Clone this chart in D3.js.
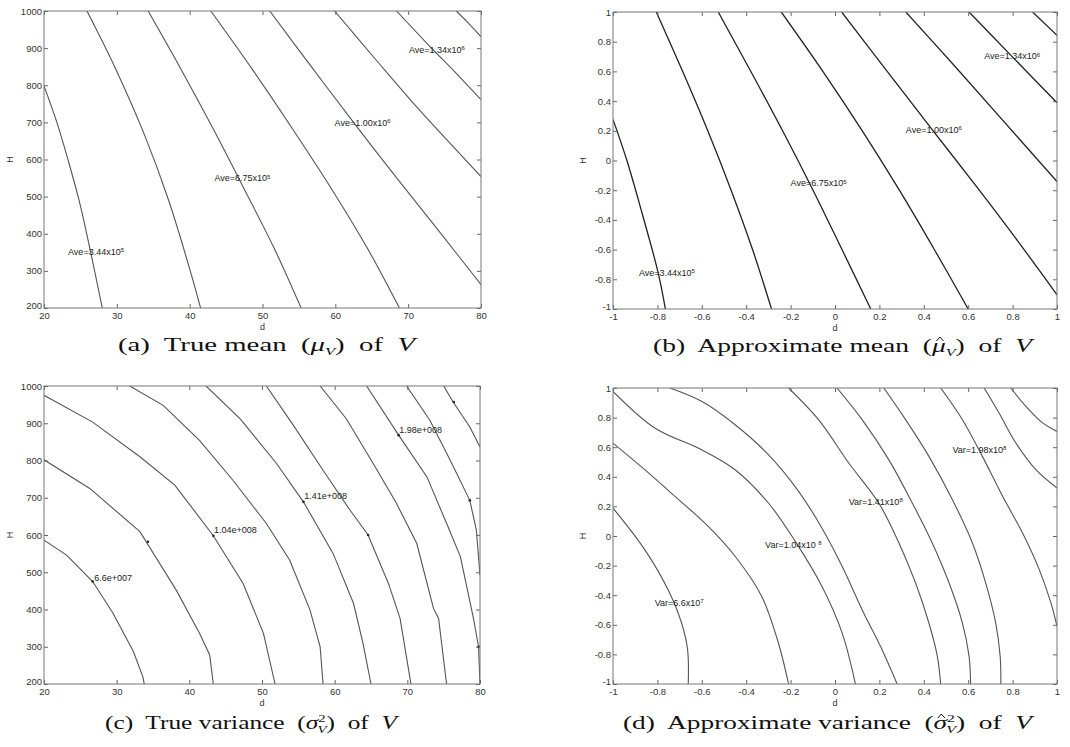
<!DOCTYPE html>
<html>
<head>
<meta charset="utf-8">
<script src="https://cdn.jsdelivr.net/npm/d3@7"></script>
<style>
body { margin: 0; background: #fff; }
svg text { font-family: "Liberation Sans", Arial, sans-serif; }
.caption { font-family: "Liberation Serif", "Times New Roman", serif; font-size: 19px; fill: #111; white-space: pre; }
.clab { font-size: 9px; fill: #222; }
</style>
</head>
<body>
<div id="chart"></div>
<script>
// tick values
var dTicks = [20, 30, 40, 50, 60, 70, 80];
var hTicks = [200, 300, 400, 500, 600, 700, 800, 900, 1000];
var nTicks = [-1, -0.8, -0.6, -0.4, -0.2, 0, 0.2, 0.4, 0.6, 0.8, 1];

// (a) true mean contours, [d, H]
var meanTrueLines = [
  [[20, 798], [21.8, 698], [23.3, 599], [24.8, 491], [26.4, 351], [28.0, 200]],
  [[25.9, 1000], [29.7, 850], [33.7, 671], [37.1, 491], [39.9, 312], [41.5, 200]],
  [[34.3, 1000], [38.9, 840], [43.3, 680], [47.5, 520], [51.6, 361], [55.3, 200]],
  [[42.9, 1000], [48.7, 840], [54.2, 680], [59.5, 520], [64.4, 361], [68.8, 200]],
  [[51.0, 1000], [56.7, 850], [62.5, 700], [68.8, 541], [74.8, 393], [80, 263]],
  [[59.9, 1000], [65.6, 868], [71.1, 743], [75.7, 645], [80, 554]],
  [[68.4, 1000], [73.0, 904], [76.6, 832], [80, 761]],
  [[76.6, 1000], [78.2, 969], [80, 931]]
];
var meanTrueLabels = [
  [23.3, 351, "Ave=3.44x10", "5"],
  [43.4, 550, "Ave=6.75x10", "5"],
  [59.9, 700, "Ave=1.00x10", "6"],
  [70.1, 895, "Ave=1.34x10", "6"]
];

// (b) approximate mean contours, normalised [d, H]
var meanApproxLines = [
  [[-1, 0.277], [-0.938, 0.003], [-0.869, -0.355], [-0.797, -0.754], [-0.764, -1]],
  [[-0.805, 1], [-0.686, 0.599], [-0.573, 0.2], [-0.468, -0.2], [-0.371, -0.601], [-0.286, -1]],
  [[-0.526, 1], [-0.379, 0.599], [-0.236, 0.2], [-0.099, -0.2], [0.032, -0.601], [0.161, -1]],
  [[-0.242, 1], [-0.054, 0.599], [0.123, 0.2], [0.290, -0.2], [0.448, -0.601], [0.600, -1]],
  [[0.030, 1], [0.236, 0.599], [0.442, 0.2], [0.650, -0.2], [0.830, -0.556], [1, -0.904]],
  [[0.319, 1], [0.529, 0.653], [0.755, 0.272], [1, -0.142]],
  [[0.604, 1], [0.785, 0.72], [1, 0.389]],
  [[0.890, 1], [1, 0.843]]
];
var meanApproxLabels = [
  [-0.883, -0.754, "Ave=3.44x10", "5"],
  [-0.200, -0.153, "Ave=6.75x10", "5"],
  [0.319, 0.209, "Ave=1.00x10", "6"],
  [0.672, 0.702, "Ave=1.34x10", "6"]
];

// (c) true variance contours, [d, H]
var varTrueLines = [
  [[20, 586], [23.1, 546], [26.7, 475], [29.5, 390], [32.3, 287], [33.6, 220], [33.8, 200]],
  [[20, 802], [26.3, 725], [33.2, 609], [38.2, 452], [41.4, 336], [42.8, 278], [43.3, 200]],
  [[20, 975], [26.7, 903], [33.2, 810], [38.0, 734], [43.3, 598], [47.4, 470], [50.2, 336], [51.8, 200]],
  [[31.8, 1000], [36.4, 948], [41.4, 854], [46.0, 747], [50.6, 631], [53.8, 533], [56.6, 399], [58.0, 300], [58.4, 200]],
  [[42.3, 1000], [47.0, 912], [52.0, 792], [55.7, 689], [59.8, 550], [62.6, 416], [63.9, 309], [65.0, 200]],
  [[50.6, 1000], [54.3, 895], [58.4, 774], [62.1, 667], [64.6, 600], [67.4, 470], [69.0, 376], [70.5, 200]],
  [[58.0, 1000], [61.6, 912], [65.3, 792], [68.5, 685], [71.3, 577], [73.6, 403], [74.3, 376], [75.4, 200]],
  [[64.4, 1000], [68.8, 868], [72.7, 756], [75.6, 622], [77.3, 542], [79.1, 376], [79.8, 300], [80, 200]],
  [[69.9, 1000], [73.1, 908], [75.9, 801], [78.6, 693], [79.5, 613], [80, 492]],
  [[75.0, 1000], [76.3, 957], [78.6, 890], [80, 836]]
];
var varTrueLabels = [
  [26.9, 486, "6.6e+007", ""],
  [43.4, 615, "1.04e+008", ""],
  [55.8, 704, "1.41e+008", ""],
  [68.9, 883, "1.98e+008", ""]
];
var varTrueMarks = [[26.7, 475], [34.3, 582], [43.3, 598], [55.7, 689], [68.8, 868], [76.4, 957], [78.6, 693], [64.6, 600], [79.8, 300]];

// (d) approximate variance contours, normalised [d, H]
var varApproxLines = [
  [[-1, 0.189], [-0.857, -0.092], [-0.752, -0.363], [-0.691, -0.588], [-0.664, -0.768], [-0.661, -1]],
  [[-1, 0.628], [-0.857, 0.448], [-0.721, 0.268], [-0.571, 0.065], [-0.45, -0.137], [-0.33, -0.408], [-0.255, -0.723], [-0.209, -1]],
  [[-1, 0.977], [-0.812, 0.730], [-0.601, 0.583], [-0.45, 0.448], [-0.30, 0.223], [-0.179, -0.036], [-0.059, -0.340], [0.032, -0.655], [0.092, -1]],
  [[-0.744, 1], [-0.601, 0.910], [-0.45, 0.752], [-0.30, 0.550], [-0.164, 0.302], [-0.059, 0.054], [0.032, -0.205], [0.122, -0.498], [0.212, -0.768], [0.28, -1]],
  [[-0.209, 1], [-0.074, 0.786], [0.062, 0.493], [0.197, 0.223], [0.288, -0.047], [0.363, -0.318], [0.423, -0.588], [0.461, -0.813], [0.476, -1]],
  [[0.009, 1], [0.122, 0.786], [0.242, 0.516], [0.348, 0.223], [0.438, -0.047], [0.514, -0.318], [0.574, -0.588], [0.604, -0.813], [0.611, -1]],
  [[0.22, 1], [0.318, 0.786], [0.423, 0.538], [0.529, 0.245], [0.619, -0.047], [0.679, -0.318], [0.724, -0.588], [0.744, -0.813], [0.747, -1]],
  [[0.476, 1], [0.574, 0.786], [0.664, 0.538], [0.755, 0.268], [0.845, 0.020], [0.920, -0.227], [0.973, -0.453], [1, -0.610]],
  [[0.672, 1], [0.739, 0.831], [0.815, 0.628], [0.905, 0.448], [1, 0.324]],
  [[0.792, 1], [0.860, 0.876], [0.935, 0.764], [1, 0.707]]
];
var varApproxLabels = [
  [-0.812, -0.453, "Var=6.6x10", "7"],
  [-0.315, -0.059, "Var=1.04x10 ", "8"],
  [0.062, 0.234, "Var=1.41x10", "8"],
  [0.529, 0.583, "Var=1.98x10", "8"]
];

var fmtN = function (v) { return String(Math.round(v * 10) / 10); };

var panels = [
  {id: "a", left: 44, right: 481, top: 11, bottom: 308, xd: [20, 80], yd: [200, 1000], xt: dTicks, yt: hTicks, fmt: String,
   lines: meanTrueLines, labels: meanTrueLabels, curve: d3.curveCatmullRom, stroke: "#555", sw: 1.1},
  {id: "b", left: 613, right: 1057, top: 12, bottom: 309, xd: [-1, 1], yd: [-1, 1], xt: nTicks, yt: nTicks, fmt: fmtN,
   lines: meanApproxLines, labels: meanApproxLabels, curve: d3.curveCatmullRom, stroke: "#222", sw: 1.3},
  {id: "c", left: 44, right: 480, top: 386, bottom: 684, xd: [20, 80], yd: [200, 1000], xt: dTicks, yt: hTicks, fmt: String,
   lines: varTrueLines, labels: varTrueLabels, curve: d3.curveLinear, stroke: "#555", sw: 1.1, marks: varTrueMarks},
  {id: "d", left: 613, right: 1057, top: 388, bottom: 684, xd: [-1, 1], yd: [-1, 1], xt: nTicks, yt: nTicks, fmt: fmtN,
   lines: varApproxLines, labels: varApproxLabels, curve: d3.curveCatmullRom, stroke: "#555", sw: 1.1}
];

var svg = d3.select("#chart").append("svg")
  .attr("width", 1070)
  .attr("height", 747);

panels.forEach(function (p) {
  var xScale = d3.scaleLinear().domain(p.xd).range([p.left, p.right]);
  var yScale = d3.scaleLinear().domain(p.yd).range([p.bottom, p.top]);
  var g = svg.append("g").attr("class", "panel-" + p.id);

  svg.append("clipPath").attr("id", "clip-" + p.id)
    .append("rect")
    .attr("x", p.left).attr("y", p.top)
    .attr("width", p.right - p.left).attr("height", p.bottom - p.top);

  var line = d3.line()
    .x(function (d) { return xScale(d[0]); })
    .y(function (d) { return yScale(d[1]); })
    .curve(p.curve);

  g.append("g")
    .attr("clip-path", "url(#clip-" + p.id + ")")
    .selectAll("path")
    .data(p.lines)
    .enter()
    .append("path")
    .attr("d", line)
    .attr("fill", "none")
    .attr("stroke", p.stroke)
    .attr("stroke-width", p.sw);

  // clabel markers
  if (p.marks) {
    g.selectAll("circle")
      .data(p.marks)
      .enter()
      .append("circle")
      .attr("cx", function (d) { return xScale(d[0]); })
      .attr("cy", function (d) { return yScale(d[1]); })
      .attr("r", 1.3)
      .attr("fill", "#222");
  }

  // contour labels
  var lab = g.selectAll("text.clab")
    .data(p.labels)
    .enter()
    .append("text")
    .attr("class", "clab")
    .attr("x", function (d) { return xScale(d[0]); })
    .attr("y", function (d) { return yScale(d[1]); })
    .attr("dy", "0.35em");
  lab.append("tspan").text(function (d) { return d[2]; });
  lab.append("tspan")
    .attr("dy", "-0.45em")
    .style("font-size", "6px")
    .text(function (d) { return d[3]; });

  // axes, ticks pointing inwards on all four sides
  var ax = [
    g.append("g").attr("transform", "translate(0," + p.bottom + ")")
      .call(d3.axisBottom(xScale).tickValues(p.xt).tickFormat(p.fmt).tickSize(-4).tickSizeOuter(0).tickPadding(4)),
    g.append("g").attr("transform", "translate(0," + p.top + ")")
      .call(d3.axisTop(xScale).tickValues(p.xt).tickFormat("").tickSize(-4).tickSizeOuter(0)),
    g.append("g").attr("transform", "translate(" + p.left + ",0)")
      .call(d3.axisLeft(yScale).tickValues(p.yt).tickFormat(p.fmt).tickSize(-4).tickSizeOuter(0).tickPadding(2)),
    g.append("g").attr("transform", "translate(" + p.right + ",0)")
      .call(d3.axisRight(yScale).tickValues(p.yt).tickFormat("").tickSize(-4).tickSizeOuter(0))
  ];
  ax.forEach(function (a) {
    a.select(".domain").remove();
    a.selectAll("line").attr("stroke", "#666");
    a.selectAll("text").attr("fill", "#333").style("font-size", "9.5px")
      .style("font-family", "'Liberation Sans', Arial, sans-serif");
  });
  // lowest H label sits just above the corner, as in the original
  ax[2].selectAll(".tick text").filter(function (d) { return d === p.yd[0]; }).attr("dy", "0.1em");

  g.append("rect")
    .attr("x", p.left).attr("y", p.top)
    .attr("width", p.right - p.left).attr("height", p.bottom - p.top)
    .attr("fill", "none")
    .attr("stroke", "#777")
    .attr("stroke-width", 1);

  // axis labels
  g.append("text")
    .attr("x", (p.left + p.right) / 2)
    .attr("y", p.bottom + 22)
    .attr("text-anchor", "middle")
    .style("font-size", "9px")
    .attr("fill", "#333")
    .text("d");
  var hx = p.left - (p.id === "a" || p.id === "c" ? 31 : 27);
  g.append("text")
    .attr("transform", "translate(" + hx + "," + (p.top + p.bottom) / 2 + ") rotate(-90)")
    .attr("text-anchor", "middle")
    .style("font-size", "9px")
    .attr("fill", "#333")
    .text("H");
});

// captions
function caption(x, y, w, tag, title, sym, hat, sup) {
  var head = "(" + tag + ")  " + title + "  (";
  var t = svg.append("text").attr("class", "caption").attr("x", x).attr("y", y)
    .attr("textLength", w).attr("lengthAdjust", "spacingAndGlyphs");
  t.append("tspan").text(head);
  t.append("tspan").style("font-style", "italic").text(sym);
  if (sup) {
    t.append("tspan").attr("dy", -7).style("font-size", "11px").text(sup);
    t.append("tspan").attr("dx", -6).attr("dy", 11).style("font-size", "11px").style("font-style", "italic").text("V");
    t.append("tspan").attr("dy", -4).text(")  of  ");
  } else {
    t.append("tspan").attr("dy", 4).style("font-size", "11px").style("font-style", "italic").text("V");
    t.append("tspan").attr("dy", -4).text(")  of  ");
  }
  t.append("tspan").style("font-style", "italic").text("V");
  if (hat) {
    // circumflex drawn over the Greek letter
    var box = t.node().getExtentOfChar(head.length);
    var cx = box.x + box.width / 2 + 1;
    svg.append("path")
      .attr("d", "M" + (cx - 3.5) + "," + (y - 11) + "L" + cx + "," + (y - 15) + "L" + (cx + 3.5) + "," + (y - 11))
      .attr("fill", "none")
      .attr("stroke", "#111")
      .attr("stroke-width", 1);
  }
}
caption(118, 351, 297, "a", "True mean", "\u03bc", false, null);
caption(653, 352, 379, "b", "Approximate mean", "\u03bc", true, null);
caption(105, 729, 292, "c", "True variance", "\u03c3", false, "2");
caption(623, 729, 409, "d", "Approximate variance", "\u03c3", true, "2");
</script>
</body>
</html>
